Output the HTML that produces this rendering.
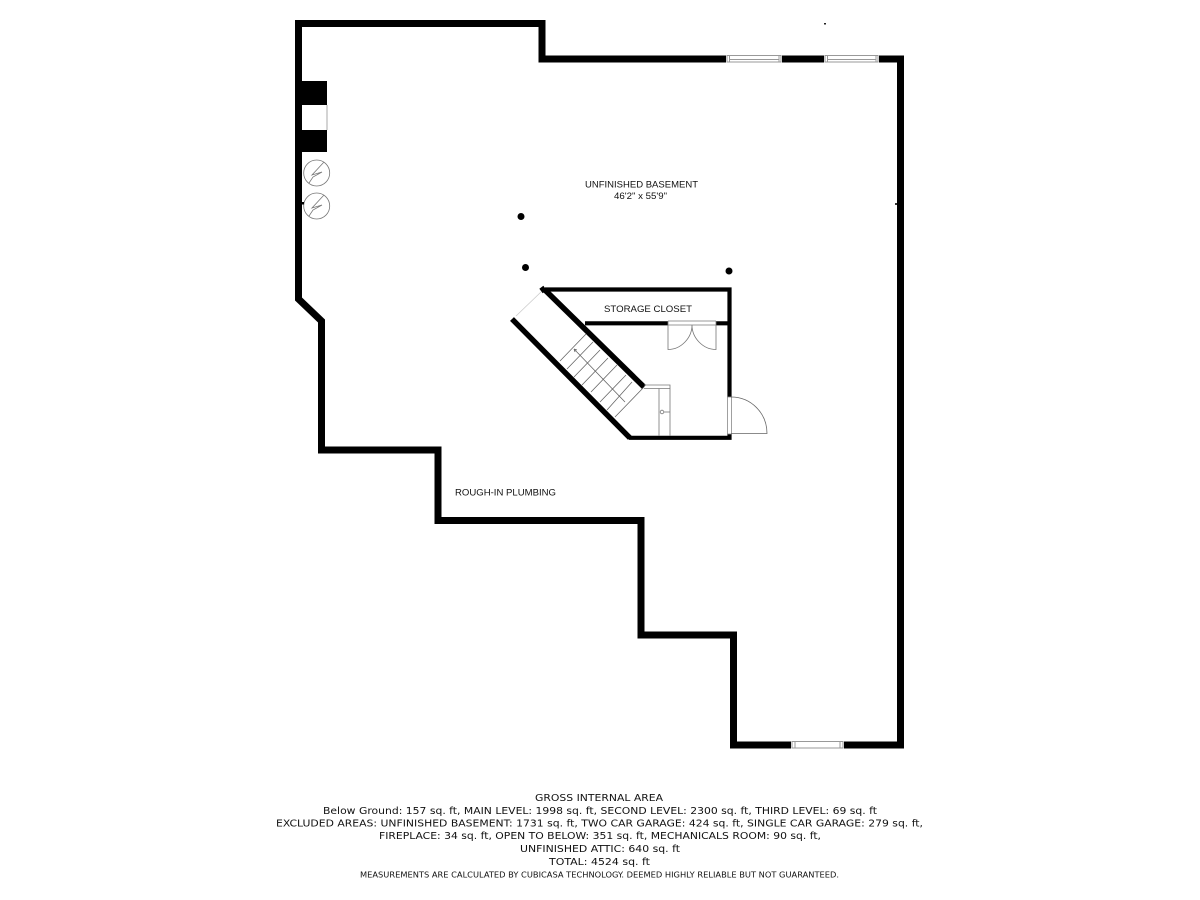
<!DOCTYPE html>
<html><head><meta charset="utf-8"><style>
html,body{margin:0;padding:0;background:#fff}
svg{display:block}
text{fill:#111;text-anchor:start}
.a{font-family:"Liberation Sans",sans-serif;font-size:9px}
.b{font-family:"DejaVu Sans",sans-serif;font-size:10px}
</style></head><body>
<svg width="1200" height="900" viewBox="0 0 1200 900" xmlns="http://www.w3.org/2000/svg">
<rect width="1200" height="900" fill="#fff"/>
<!-- outer wall -->
<path d="M298.500 23.500H542V59H900.500V745H733.500V635H641V520.500H438V450H321.500V321L298.500 299Z" fill="none" stroke="#000" stroke-width="7" stroke-linejoin="miter"/>
<!-- windows -->
<g fill="#fff" stroke="none">
<rect x="726" y="54.500" width="56" height="8.500"/>
<rect x="824" y="54.500" width="55" height="8.500"/>
<rect x="791" y="741" width="53" height="8"/>
</g>
<g fill="none" stroke="#999" stroke-width="1">
<rect x="727" y="55.500" width="54" height="6.500"/>
<path d="M729.500 55.500V62M779 55.500V62M729.500 59.500H779"/>
<rect x="825" y="55.500" width="53" height="6.500"/>
<path d="M827.500 55.500V62M876 55.500V62M827.500 59.500H876"/>
<rect x="792" y="741.500" width="51" height="6.500"/>
<path d="M795 741.500V748M840 741.500V748"/>
</g>
<!-- fireplace -->
<rect x="301" y="81" width="26" height="24" fill="#000"/>
<rect x="301" y="130" width="26" height="22" fill="#000"/>
<path d="M327 105V130" stroke="#aaa" stroke-width="1"/>
<!-- mechanicals -->
<g fill="none" stroke="#777" stroke-width="0.800">
<circle cx="316.700" cy="173" r="13"/>
<path d="M309 183L313 177L322 172L312 175L324 162"/>
<circle cx="316.700" cy="206" r="13"/>
<path d="M309 216L313 210L322 205L312 208L324 195"/>
</g>
<!-- small marks -->
<rect x="301" y="202" width="3" height="2.500" fill="#000"/>
<rect x="824" y="23" width="2" height="1.500" fill="#222"/>
<rect x="895" y="203" width="2" height="2" fill="#333"/>
<!-- pillars -->
<circle cx="521" cy="216.500" r="3.500" fill="#000"/>
<circle cx="525.500" cy="267.500" r="3.500" fill="#000"/>
<circle cx="729" cy="271" r="3.500" fill="#000"/>
<!-- inner walls -->
<g fill="none" stroke="#000" stroke-linejoin="miter">
<path d="M545 289.500H729.500V397" stroke-width="4.200"/>
<path d="M729.500 433V437.800H629" stroke-width="4.200"/>
<path d="M585 323.300H668M716 323.300H729" stroke-width="4.200"/>
<path d="M541 291L545 288M545 290L644 387" stroke-width="5.500"/>
<path d="M512 319L630 438" stroke-width="5.500"/>
</g>
<!-- stairs -->
<g fill="none" stroke="#666" stroke-width="0.800">
<path d="M560 361L586 334M567 369L593 342M574 377L600 350M582 385L608 358M591 392L617 365M600 402L626 375M607 410L632 382M615 417L644 387"/>
<path d="M574 349L625 402M574 349L577 350M574 349L575 352"/>
<path d="M516 316L541 292" stroke="#ccc"/>
</g>
<!-- closet by door -->
<g fill="none" stroke="#777" stroke-width="0.800">
<path d="M644 385H670V436M644 388.500H670M659 388.500V436"/>
<circle cx="662" cy="412" r="1.800"/>
<path d="M664 412H670"/>
</g>
<!-- double door -->
<rect x="668" y="321" width="48" height="4.500" fill="#fff"/>
<g fill="none" stroke="#777" stroke-width="0.800">
<path d="M668 321H716M668 325H716"/>
<path d="M668 321V349.500C681 349.500 692 338 692 325C692 338 703 349.500 716 349.500V321"/>
</g>
<!-- entry door -->
<rect x="727.400" y="397" width="4.200" height="37" fill="#fff" stroke="#888" stroke-width="0.800"/>
<path d="M731 397C751 397 767 413 767 433.500H731" fill="none" stroke="#666" stroke-width="0.800"/>
<!-- labels -->
<text class="a" x="585" y="187.500" textLength="113" lengthAdjust="spacingAndGlyphs">UNFINISHED BASEMENT</text>
<text class="a" x="614" y="199" textLength="53" lengthAdjust="spacingAndGlyphs">46'2" x 55'9"</text>
<text class="a" x="604" y="312" textLength="88" lengthAdjust="spacingAndGlyphs">STORAGE CLOSET</text>
<text class="a" x="455" y="495.500" textLength="101" lengthAdjust="spacingAndGlyphs">ROUGH-IN PLUMBING</text>
<!-- footer -->
<text class="b" x="535" y="801" textLength="128" lengthAdjust="spacingAndGlyphs">GROSS INTERNAL AREA</text>
<text class="b" x="323" y="814" textLength="554" lengthAdjust="spacingAndGlyphs">Below Ground: 157 sq. ft, MAIN LEVEL: 1998 sq. ft, SECOND LEVEL: 2300 sq. ft, THIRD LEVEL: 69 sq. ft</text>
<text class="b" x="276" y="826.500" textLength="647" lengthAdjust="spacingAndGlyphs">EXCLUDED AREAS: UNFINISHED BASEMENT: 1731 sq. ft, TWO CAR GARAGE: 424 sq. ft, SINGLE CAR GARAGE: 279 sq. ft,</text>
<text class="b" x="379" y="839" textLength="442" lengthAdjust="spacingAndGlyphs">FIREPLACE: 34 sq. ft, OPEN TO BELOW: 351 sq. ft, MECHANICALS ROOM: 90 sq. ft,</text>
<text class="b" x="520" y="852" textLength="160" lengthAdjust="spacingAndGlyphs">UNFINISHED ATTIC: 640 sq. ft</text>
<text class="b" x="549" y="865" textLength="101" lengthAdjust="spacingAndGlyphs">TOTAL: 4524 sq. ft</text>
<text class="b" style="font-size:8px" x="360" y="877.500" textLength="479" lengthAdjust="spacingAndGlyphs">MEASUREMENTS ARE CALCULATED BY CUBICASA TECHNOLOGY. DEEMED HIGHLY RELIABLE BUT NOT GUARANTEED.</text>
</svg>
</body></html>
